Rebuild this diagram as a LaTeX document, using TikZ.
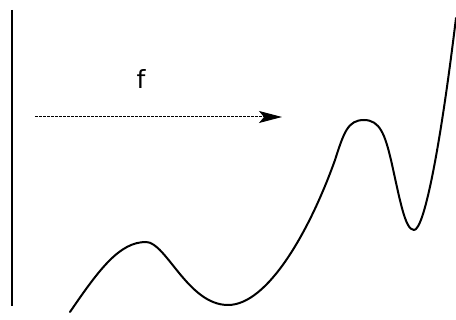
\documentclass[tikz,border=0pt]{standalone}
\usepackage{fontspec}
\setmainfont{DejaVu Sans}
\usetikzlibrary{arrows.meta}
\begin{document}
\begin{tikzpicture}[x=1pt,y=-1pt,
  axisline/.style={line width=2.3pt},
  curveline/.style={line width=2pt,line cap=round,line join=round},
  maparrow/.style={line width=1pt,dash pattern=on 2.5pt off 1.5pt,-{Stealth[length=23pt,width=12pt,inset=5pt]}}]
\useasboundingbox (0,0) rectangle (456,320);
\coordinate (vtop) at (12,10);
\coordinate (vbot) at (12,306);
\draw[axisline] (vtop) -- (vbot);
\coordinate (astart) at (35,117);
\coordinate (aend) at (282,117);
\draw[maparrow] (astart) -- (aend);
\node[font=\fontsize{25}{29}\selectfont] (flabel) at (141,79) {f};
\draw[curveline] (70,312) .. controls (100,268) and (120,242) .. (146,242)
  .. controls (166,242) and (188,305) .. (228,305)
  .. controls (268,305) and (310,230) .. (335,160)
  .. controls (344,132) and (348,120) .. (364,120)
  .. controls (380,120) and (385,135) .. (391,160)
  .. controls (400,200) and (405,230) .. (414,230)
  .. controls (424,230) and (440,150) .. (456,18);
\end{tikzpicture}
\end{document}
